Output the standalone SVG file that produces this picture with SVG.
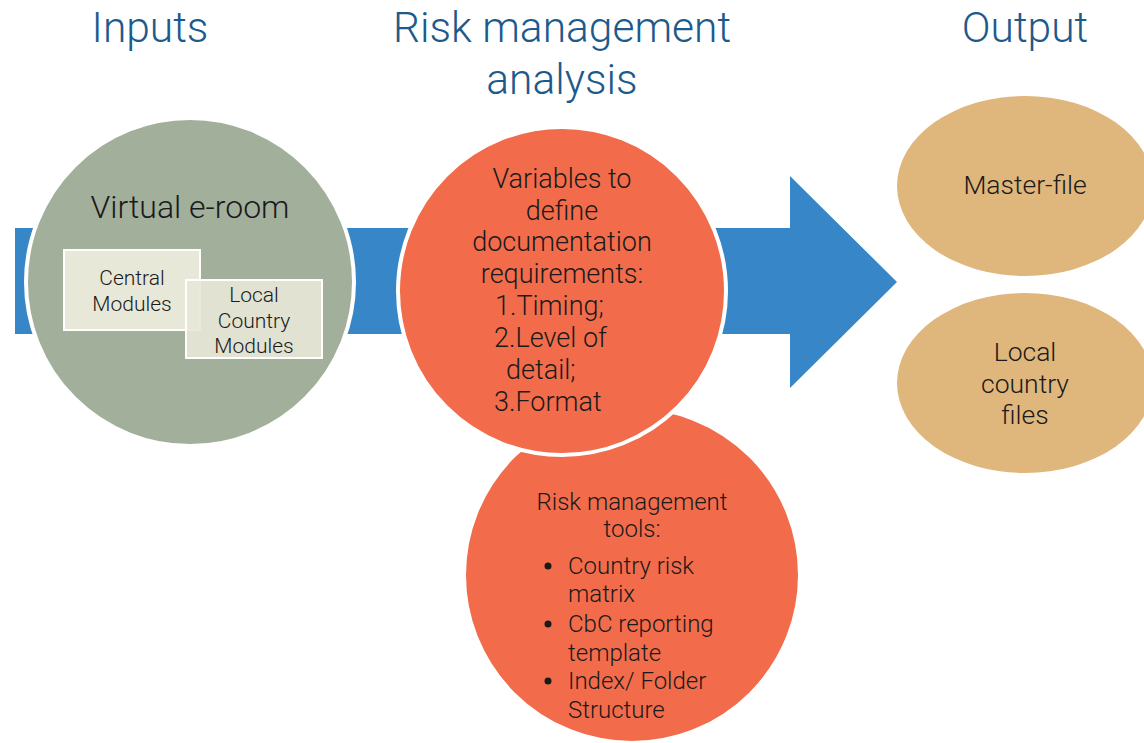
<svg xmlns="http://www.w3.org/2000/svg" width="1144" height="743" viewBox="0 0 1144 743">
<style>
.t{font-family:Roboto,"Liberation Sans",sans-serif;font-weight:300;fill:#1a1a1a}
.h{font-family:Roboto,"Liberation Sans",sans-serif;font-weight:300;fill:#1d5a8c;font-size:42.5px;text-anchor:middle}
.c{text-anchor:middle}
.orange{fill:#f26c4c;stroke:#fff;stroke-width:4}
.tan{fill:#dfb67b}
.box{fill:#e8e8d8;stroke:#fff;stroke-width:2}
</style>
<rect width="1144" height="743" fill="#fff"/>
<g id="titles">
<text class="h" x="150" y="42">Inputs</text>
<text class="h" x="562" y="42">Risk management</text>
<text class="h" x="562" y="94">analysis</text>
<text class="h" x="1025" y="42">Output</text>
</g>
<g id="connectors">
<path d="M15 228 H790 V176 L897 282 L790 388 V334 H15 Z" fill="#3787c8"/>
</g>
<g id="inputs">
<circle cx="190" cy="282" r="164" fill="#a2af9b" stroke="#fff" stroke-width="4"/>
<text class="t c" x="190" y="218" font-size="32">Virtual e-room</text>
<g id="central-modules">
<rect class="box" x="64" y="250" width="136" height="80"/>
<text class="t c" x="132" y="285" font-size="21">Central</text>
<text class="t c" x="132" y="311" font-size="21">Modules</text>
</g>
<g id="local-modules">
<rect class="box" x="186" y="280" width="136" height="78" fill-opacity="0.9"/>
<text class="t c" x="254" y="302" font-size="21">Local</text>
<text class="t c" x="254" y="328" font-size="21">Country</text>
<text class="t c" x="254" y="353" font-size="21">Modules</text>
</g>
</g>
<g id="tools">
<circle class="orange" cx="632" cy="575" r="168"/>
<g class="t" font-size="24">
<text class="c" x="632" y="510">Risk management</text>
<text class="c" x="632" y="537">tools:</text>
<circle cx="548" cy="566" r="3.5" fill="#1a1a1a"/>
<text x="568" y="574">Country risk</text>
<text x="568" y="602">matrix</text>
<circle cx="548" cy="624" r="3.5" fill="#1a1a1a"/>
<text x="568" y="632">CbC reporting</text>
<text x="568" y="661">template</text>
<circle cx="548" cy="681" r="3.5" fill="#1a1a1a"/>
<text x="568" y="689">Index/ Folder</text>
<text x="568" y="718">Structure</text>
</g>
</g>
<g id="variables">
<circle class="orange" cx="562" cy="291" r="164"/>
<g class="t" font-size="27">
<text class="c" x="562" y="188">Variables to</text>
<text class="c" x="562" y="220">define</text>
<text class="c" x="562" y="251">documentation</text>
<text class="c" x="562" y="283">requirements:</text>
<text x="495" y="315">1.Timing;</text>
<text x="494" y="347">2.Level of</text>
<text x="506" y="379">detail;</text>
<text x="494" y="411">3.Format</text>
</g>
</g>
<g id="master-file">
<ellipse class="tan" cx="1025" cy="186" rx="128" ry="90"/>
<text class="t c" x="1025" y="194" font-size="26.5">Master-file</text>
</g>
<g id="local-files">
<ellipse class="tan" cx="1025" cy="383" rx="128" ry="90"/>
<text class="t c" x="1025" y="361" font-size="26.5">Local</text>
<text class="t c" x="1025" y="393" font-size="26.5">country</text>
<text class="t c" x="1025" y="424" font-size="26.5">files</text>
</g>
</svg>
